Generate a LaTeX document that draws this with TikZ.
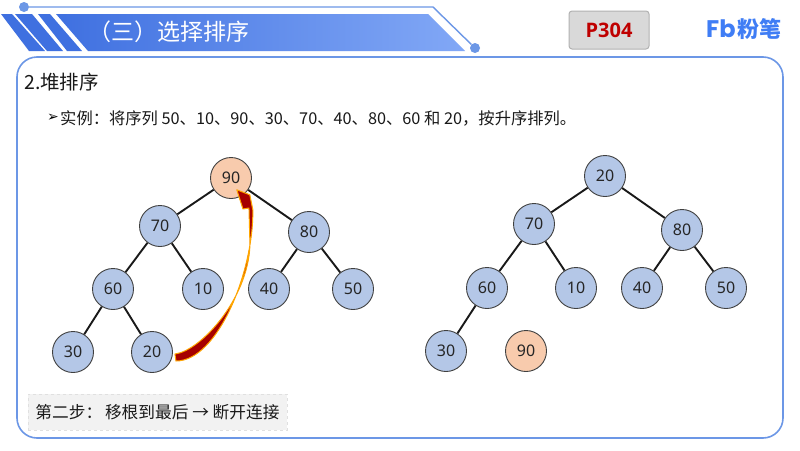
\documentclass[tikz,border=0pt]{standalone}
\usepackage{fontspec}
\usepackage{tikz}
\usetikzlibrary{arrows.meta}
\setmainfont{Noto Sans}
\newfontfamily\cjk{Noto Sans CJK SC}
\newfontfamily\sym{DejaVu Sans}
\newfontfamily\pagefont{Open Sans}
\newfontfamily\logofont{Poppins}
\definecolor{framecol}{HTML}{6C97E6}
\definecolor{nodeblue}{HTML}{B4C7E7}
\definecolor{nodeorange}{HTML}{F8CBAD}
\definecolor{logocol}{HTML}{3F7DF5}
\definecolor{titleleft}{HTML}{3F70E0}
\definecolor{titleright}{HTML}{82A8F6}
\begin{document}
\begin{tikzpicture}[x=1pt,y=-1pt]
\tikzstyle{tree}=[circle,draw=black!75,line width=0.9pt,fill=nodeblue,minimum size=41pt,inner sep=0pt,font=\fontsize{16}{16}\selectfont,text=black!85];
\tikzstyle{hot}=[tree,fill=nodeorange];
\tikzstyle{edge}=[line width=1.9pt,black!90];
\tikzstyle{wire}=[framecol,line width=1.4pt];
\tikzstyle{dot}=[circle,fill=framecol,minimum size=10pt,inner sep=0pt];
\tikzstyle{curvearrow}=[draw=orange!70!yellow,line width=1pt,fill=red!65!black,line join=round];
\useasboundingbox (0,0) rectangle (800,450);
\fill [white] (0,0) rectangle (800,450);
\node (d1) [dot] at (24,7) {};
\node (d2) [dot] at (475,48) {};
\coordinate (bend) at (433,7);
\draw [wire] (d1) -- (bend) -- (d2);
\fill [titleleft] (1,14) -- (12,14) -- (45,51) -- (29,51) -- cycle;
\fill [titleleft] (15,14) -- (32,14) -- (63,51) -- (47,51) -- cycle;
\fill [titleleft] (38,14) -- (50,14) -- (82,51) -- (67,51) -- cycle;
\shade [left color=titleleft,right color=titleright] (56,14) -- (428,14) -- (465,51) -- (88,51) -- cycle;
\node (title) [anchor=west,inner sep=0pt,white,font=\cjk\fontsize{23}{23}\selectfont] at (88,32) {（三）选择排序};
\node (page) [draw=black!30,line width=1pt,fill=black!15,rounded corners=3pt,minimum width=80pt,minimum height=38pt,inner sep=0pt,text=red!75!black,font=\pagefont\bfseries\fontsize{20}{20}\selectfont] at (609,30) {P304};
\node (logo1) [anchor=west,inner sep=0pt,text=logocol,font=\logofont\bfseries\fontsize{24}{24}\selectfont] at (706,29) {Fb};
\node (logo2) [anchor=west,inner sep=0pt,text=logocol,font=\cjk\bfseries\fontsize{22}{22}\selectfont] at (737,29) {粉笔};
\node (frame) [draw=framecol,line width=1.6pt,rounded corners=20pt,minimum width=766pt,minimum height=381pt,inner sep=0pt] at (400,247.5) {};
\node (head) [anchor=west,inner sep=0pt,font=\cjk\fontsize{19.5}{19.5}\selectfont,text=black!90] at (24,82) {2.堆排序};
\node (mark) [anchor=west,inner sep=0pt,font=\sym\fontsize{14}{14}\selectfont] at (47,118) {➢};
\node (line) [anchor=west,inner sep=0pt,font=\cjk\fontsize{16.3}{16.3}\selectfont,text=black!90] at (60,118) {实例：将序列 50、10、90、30、70、40、80、60 和 20，按升序排列。};
\node (note) [draw=black!12,dashed,line width=1pt,fill=black!5,minimum width=259pt,minimum height=36pt,inner sep=0pt,font=\cjk\fontsize{16.7}{16.7}\selectfont,text=black!90] at (157.5,412) {第二步：\,移根到最后 → 断开连接};
\node (1) [hot] at (231,178) {90};
\node (2) [tree] at (160,226) {70};
\node (3) [tree] at (309,232) {80};
\node (4) [tree] at (113,289) {60};
\node (5) [tree] at (203,289) {10};
\node (6) [tree] at (269,289) {40};
\node (7) [tree] at (353,289) {50};
\node (8) [tree] at (73,352) {30};
\node (9) [tree] at (152,352) {20};
\draw [edge] (1) -- (2);
\draw [edge] (1) -- (3);
\draw [edge] (2) -- (4);
\draw [edge] (2) -- (5);
\draw [edge] (3) -- (6);
\draw [edge] (3) -- (7);
\draw [edge] (4) -- (8);
\draw [edge] (4) -- (9);
\node (11) [tree] at (605,176) {20};
\node (12) [tree] at (534,224) {70};
\node (13) [tree] at (682,230) {80};
\node (14) [tree] at (487,288) {60};
\node (15) [tree] at (576,288) {10};
\node (16) [tree] at (642,288) {40};
\node (17) [tree] at (726,288) {50};
\node (18) [tree] at (446,351) {30};
\node (19) [hot] at (526,351) {90};
\draw [edge] (11) -- (12);
\draw [edge] (11) -- (13);
\draw [edge] (12) -- (14);
\draw [edge] (12) -- (15);
\draw [edge] (13) -- (16);
\draw [edge] (13) -- (17);
\draw [edge] (14) -- (18);
\coordinate (tail) at ([shift={(2,2)}]9.east);
\coordinate (tip) at ([shift={(-9,-3)}]1.south east);
\draw [curvearrow] (tail) .. controls +(25,-3) and +(-2,55) .. ++(75,-109) -- ++(-1,-37) -- ++(-6,1) -- (tip) -- ++(13,5) -- ++(3,15) .. controls +(1,61) and +(42,0) .. ([shift={(1,7)}]tail) -- cycle;
\end{tikzpicture}
\end{document}
